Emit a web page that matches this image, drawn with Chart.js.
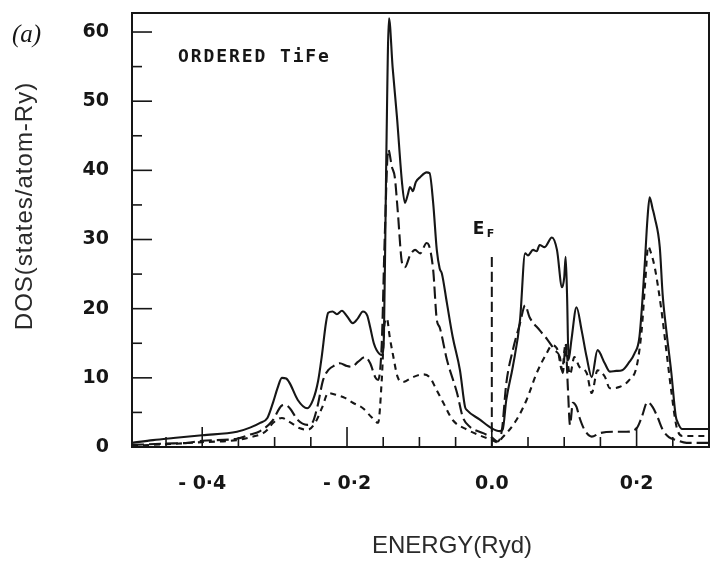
<!DOCTYPE html>
<html>
<head>
<meta charset="utf-8">
<title>Ordered TiFe DOS</title>
<script src="https://cdn.jsdelivr.net/npm/chart.js@4.4.1/dist/chart.umd.min.js"></script>
<style>
  html, body { margin: 0; padding: 0; background: #fff; }
  #wrap { width: 710px; height: 562px; position: relative; }
</style>
</head>
<body>
<div id="wrap"><canvas id="dosChart" width="710" height="562"></canvas></div>
<script>
'use strict';

/**
 * data
 */

// total DOS (solid)
const totalEnergy = [-0.497, -0.468, -0.44, -0.4, -0.352, -0.334, -0.32, -0.31, -0.302, -0.296, -0.29, -0.284, -0.279, -0.268, -0.255, -0.247, -0.24, -0.235, -0.229, -0.226, -0.22, -0.214, -0.207, -0.2, -0.192, -0.185, -0.178, -0.172, -0.168, -0.163, -0.159, -0.152, -0.149, -0.146, -0.142, -0.137, -0.131, -0.124, -0.12, -0.116, -0.113, -0.109, -0.105, -0.099, -0.09, -0.086, -0.081, -0.076, -0.072, -0.069, -0.062, -0.054, -0.044, -0.037, -0.034, -0.017, 0.0, 0.011, 0.015, 0.02, 0.029, 0.039, 0.046, 0.05, 0.057, 0.062, 0.066, 0.073, 0.083, 0.09, 0.097, 0.1, 0.102, 0.104, 0.106, 0.11, 0.117, 0.124, 0.131, 0.138, 0.146, 0.156, 0.163, 0.172, 0.18, 0.19, 0.197, 0.204, 0.211, 0.215, 0.218, 0.222, 0.225, 0.232, 0.236, 0.241, 0.248, 0.254, 0.257, 0.263, 0.3];
const totalDos = [0.6, 1.0, 1.3, 1.7, 2.2, 2.8, 3.5, 4.2, 6.5, 8.5, 10.0, 9.9, 9.2, 6.8, 5.6, 6.8, 9.5, 13.0, 18.0, 19.4, 19.6, 19.2, 19.7, 18.9, 17.9, 18.6, 19.6, 19.0, 17.3, 15.0, 14.0, 13.3, 16.0, 40.0, 62.0, 54.9, 47.7, 38.2, 35.3, 36.5, 37.6, 37.0, 38.3, 39.0, 39.7, 39.6, 35.3, 28.5, 25.8, 25.1, 20.8, 15.9, 11.1, 5.8, 5.3, 4.0, 2.7, 2.3, 2.5, 6.8, 11.6, 18.4, 28.0, 27.7, 28.5, 28.3, 29.2, 28.9, 30.3, 28.5, 23.1, 24.5, 27.5, 21.7, 12.6, 15.5, 20.2, 16.9, 13.0, 10.1, 14.0, 12.1, 10.9, 11.0, 11.1, 12.3, 13.5, 16.0, 26.0, 33.0, 36.1, 34.5, 33.2, 28.9, 22.0, 16.9, 10.7, 4.5, 3.5, 2.6, 2.6];

// long dashed partial
const feEnergy = [-0.497, -0.45, -0.42, -0.4, -0.352, -0.334, -0.32, -0.303, -0.29, -0.285, -0.279, -0.268, -0.255, -0.248, -0.241, -0.233, -0.226, -0.217, -0.21, -0.2, -0.193, -0.185, -0.175, -0.168, -0.161, -0.157, -0.152, -0.148, -0.143, -0.138, -0.134, -0.13, -0.124, -0.12, -0.113, -0.106, -0.099, -0.09, -0.087, -0.081, -0.076, -0.072, -0.062, -0.048, -0.04, -0.03, -0.012, 0.0, 0.008, 0.014, 0.02, 0.029, 0.039, 0.046, 0.052, 0.066, 0.077, 0.087, 0.094, 0.098, 0.102, 0.105, 0.108, 0.112, 0.117, 0.121, 0.128, 0.138, 0.149, 0.167, 0.186, 0.2, 0.207, 0.215, 0.222, 0.229, 0.236, 0.245, 0.255, 0.269, 0.3];
const feDos = [0.3, 0.5, 0.6, 0.9, 1.2, 1.8, 2.3, 3.8, 6.0, 6.1, 5.6, 3.9, 3.2, 3.5, 5.8, 9.7, 11.1, 11.8, 12.1, 11.7, 11.6, 12.3, 13.0, 12.1, 10.1, 9.7, 15.0, 30.0, 43.0, 40.5, 39.0, 34.2, 26.6, 26.0, 27.7, 28.5, 28.0, 29.5, 29.2, 25.6, 18.4, 17.3, 12.6, 7.8, 4.3, 2.9, 2.0, 1.4, 0.8, 2.5, 9.2, 14.0, 17.9, 20.5, 18.8, 16.9, 15.5, 14.0, 13.0, 10.7, 14.7, 8.7, 3.2, 6.4, 5.8, 4.3, 2.5, 1.5, 2.0, 2.2, 2.2, 2.7, 4.3, 6.5, 5.8, 4.3, 2.5, 1.4, 1.0, 0.6, 0.6];

// short dashed partial
const tiEnergy = [-0.497, -0.45, -0.4, -0.352, -0.334, -0.316, -0.31, -0.302, -0.29, -0.279, -0.265, -0.254, -0.244, -0.234, -0.226, -0.214, -0.203, -0.192, -0.178, -0.166, -0.157, -0.152, -0.148, -0.145, -0.141, -0.137, -0.13, -0.123, -0.109, -0.095, -0.086, -0.076, -0.067, -0.054, -0.034, -0.017, 0.0, 0.007, 0.015, 0.034, 0.048, 0.062, 0.076, 0.083, 0.091, 0.097, 0.102, 0.105, 0.108, 0.114, 0.121, 0.131, 0.138, 0.146, 0.156, 0.163, 0.177, 0.19, 0.2, 0.207, 0.212, 0.216, 0.22, 0.225, 0.234, 0.241, 0.248, 0.255, 0.263, 0.3];
const tiDos = [0.2, 0.4, 0.7, 1.0, 1.4, 2.0, 2.5, 3.5, 4.2, 3.6, 2.7, 2.5, 3.5, 5.8, 7.8, 7.5, 7.1, 6.4, 5.6, 4.3, 3.5, 9.7, 17.9, 18.6, 15.9, 13.6, 10.1, 9.4, 10.1, 10.5, 10.1, 8.2, 6.4, 3.9, 2.5, 1.7, 1.0, 0.7, 1.4, 3.9, 6.8, 10.7, 13.6, 14.7, 14.0, 11.1, 15.0, 12.1, 10.5, 13.0, 11.6, 10.7, 7.8, 11.1, 10.2, 8.5, 8.7, 9.7, 11.6, 16.9, 24.0, 29.0, 28.0, 26.0, 20.0, 14.0, 8.0, 3.0, 1.6, 1.6];

// Fermi level marker
const fermiEnergy = [0.0, 0.0];
const fermiDos = [0.0, 28.2];

// axis ranges and tick labels
const xRange = [-0.497, 0.3];
const yRange = [0, 62.75];
const xTickLabels = { '-40': '- 0·4', '-20': '- 0·2', '0': '0.0', '20': '0·2' };
const yTickLabels = [0, 10, 20, 30, 40, 50, 60];


/**
 * helpers
 */

const toPoints = function (xs, ys) {
  const pts = [];
  for (let i = 0; i < xs.length; i++) {
    pts.push({ x: xs[i], y: ys[i] });
  }
  return pts;
}

const xLabelFor = function (value) {
  const key = String(Math.round(value * 100));
  return xTickLabels[key] || '';
}

const yLabelFor = function (value) {
  const v = Math.round(value);
  return yTickLabels.indexOf(v) >= 0 && Math.abs(v - value) < 1e-6 ? String(v) : '';
}

// keep the plot box where the scan has it, no label overhang padding
const pinScale = function (scale, size) {
  if (scale.isHorizontal()) {
    scale.height = size;
  } else {
    scale.width = size;
  }
  scale.paddingTop = 0;
  scale.paddingBottom = 0;
  scale.paddingLeft = 0;
  scale.paddingRight = 0;
}

const INK = '#161616';


/**
 * frame, inward ticks and free text
 */

const decorPlugin = {
  id: 'decor',
  afterDraw: function (chart) {
    const ctx = chart.ctx;
    const area = chart.chartArea;
    const xs = chart.scales.x;
    const ys = chart.scales.y;

    ctx.save();
    ctx.strokeStyle = INK;
    ctx.lineWidth = 2;
    ctx.setLineDash([]);
    ctx.strokeRect(area.left, area.top, area.right - area.left, area.bottom - area.top);

    // inward ticks on the energy axis
    ctx.lineWidth = 1.6;
    xs.ticks.forEach(function (t) {
      const px = xs.getPixelForValue(t.value);
      if (px <= area.left + 2 || px >= area.right - 2) return;
      const len = xLabelFor(t.value) ? 20 : 10;
      ctx.beginPath();
      ctx.moveTo(px, area.bottom);
      ctx.lineTo(px, area.bottom - len);
      ctx.stroke();
    });

    // inward ticks on the DOS axis
    ys.ticks.forEach(function (t) {
      const py = ys.getPixelForValue(t.value);
      if (py >= area.bottom - 2 || py <= area.top + 2) return;
      const len = yLabelFor(t.value) ? 20 : 10;
      ctx.beginPath();
      ctx.moveTo(area.left, py);
      ctx.lineTo(area.left + len, py);
      ctx.stroke();
    });

    // panel letter
    ctx.fillStyle = INK;
    ctx.textBaseline = 'alphabetic';
    ctx.textAlign = 'left';
    ctx.font = 'italic 25px "Liberation Serif", "DejaVu Serif", serif';
    ctx.fillText('(a)', 12, 42);

    // inset title
    ctx.font = 'bold 18px "DejaVu Sans Mono", monospace';
    ctx.letterSpacing = '1.9px';
    ctx.fillText('ORDERED TiFe', 178, 62);
    ctx.letterSpacing = '0px';

    // Fermi level label
    const ef = xs.getPixelForValue(0);
    ctx.font = 'bold 17px "DejaVu Sans", sans-serif';
    ctx.fillText('E', ef - 19, 234);
    ctx.font = 'bold 11px "DejaVu Sans", sans-serif';
    ctx.fillText('F', ef - 5, 237);

    // axis titles
    ctx.fillStyle = '#2a2a2a';
    ctx.font = '24px "Liberation Sans", Arial, sans-serif';
    ctx.textAlign = 'center';
    ctx.textBaseline = 'middle';
    ctx.fillText('ENERGY(Ryd)', 452, 546);

    ctx.translate(25, 206);
    ctx.rotate(-Math.PI / 2);
    ctx.letterSpacing = '1px';
    ctx.fillText('DOS(states/atom-Ry)', 0, 0);
    ctx.restore();
  }
};


/**
 * chart
 */

document.addEventListener("DOMContentLoaded", function () {
  const lineBase = {
    borderColor: INK,
    borderWidth: 2.1,
    pointRadius: 0,
    fill: false,
    cubicInterpolationMode: 'monotone',
    showLine: true
  };

  const data = {
    datasets: [
      Object.assign({}, lineBase, { label: 'Total', data: toPoints(totalEnergy, totalDos) }),
      Object.assign({}, lineBase, { label: 'Fe', data: toPoints(feEnergy, feDos), borderDash: [12, 5] }),
      Object.assign({}, lineBase, { label: 'Ti', data: toPoints(tiEnergy, tiDos), borderDash: [6, 5] }),
      Object.assign({}, lineBase, { label: 'EF', data: toPoints(fermiEnergy, fermiDos), borderDash: [10, 5], borderWidth: 2 })
    ]
  };

  const tickFont = { family: '"DejaVu Sans", sans-serif', size: 19, weight: 'bold' };

  const ctx = document.getElementById("dosChart").getContext("2d");
  const dosChart = new Chart(ctx, {
    type: 'scatter',
    data: data,
    plugins: [decorPlugin],
    options: {
      responsive: false,
      animation: false,
      layout: { padding: { top: 13, right: 1, left: 0, bottom: 0 } },
      plugins: {
        legend: { display: false },
        tooltip: { enabled: false }
      },
      scales: {
        x: {
          type: 'linear',
          min: xRange[0],
          max: xRange[1],
          grid: { display: false },
          border: { display: false },
          ticks: {
            stepSize: 0.05,
            includeBounds: false,
            autoSkip: false,
            maxRotation: 0,
            padding: 18,
            color: INK,
            font: tickFont,
            callback: function (value) { return xLabelFor(value); }
          },
          afterFit: function (scale) { pinScale(scale, 115); }
        },
        y: {
          type: 'linear',
          min: yRange[0],
          max: yRange[1],
          grid: { display: false },
          border: { display: false },
          ticks: {
            stepSize: 5,
            includeBounds: false,
            autoSkip: false,
            padding: 15,
            color: INK,
            font: tickFont,
            callback: function (value) { return yLabelFor(value); }
          },
          afterFit: function (scale) { pinScale(scale, 132); }
        }
      }
    }
  });
});
</script>
</body>
</html>
